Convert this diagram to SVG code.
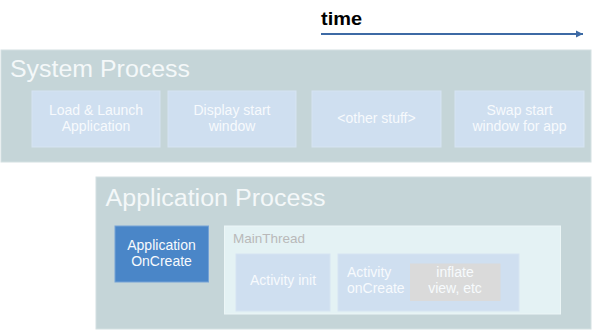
<svg xmlns="http://www.w3.org/2000/svg" width="592" height="330" viewBox="0 0 592 330">
<style>
.proc{fill:#c5d5d8;stroke:#d3e0e2;stroke-width:1}
.step{fill:#cfdff0;stroke:#d6e4f2;stroke-width:1}
.title{font-family:"Liberation Sans",Arial,sans-serif;font-size:23px;fill:#f4f8f9}
.lbl{font-family:"Liberation Sans",Arial,sans-serif;font-size:14px;fill:#f7fafd;text-anchor:middle}
.lbll{font-family:"Liberation Sans",Arial,sans-serif;font-size:14px;fill:#f7fafd}
</style>
<defs>
<marker id="ah" markerWidth="8" markerHeight="8" refX="7" refY="4" orient="auto" markerUnits="userSpaceOnUse">
<path d="M0,0.5 L7,4 L0,7.5 Z" fill="#3d6aa5"/>
</marker>
</defs>
<rect width="592" height="330" fill="#ffffff"/>
<g id="time-label">
<text x="321" y="25" font-family="Liberation Sans,Arial,sans-serif" font-size="18" font-weight="bold" fill="#000000" textLength="41" lengthAdjust="spacingAndGlyphs">time</text>
</g>
<g id="connectors">
<line x1="321" y1="34" x2="583" y2="34" stroke="#3d6aa5" stroke-width="2" marker-end="url(#ah)"/>
</g>
<g id="system-process">
<rect class="proc" x="1" y="50" width="590" height="112"/>
<text class="title" x="10" y="77" textLength="180" lengthAdjust="spacingAndGlyphs">System Process</text>
</g>
<g id="load-launch">
<rect class="step" x="32" y="91" width="128" height="56"/>
<text class="lbl" x="96" y="115">Load &amp; Launch</text>
<text class="lbl" x="96" y="131">Application</text>
</g>
<g id="display-start">
<rect class="step" x="168" y="91" width="128" height="56"/>
<text class="lbl" x="232" y="115">Display start</text>
<text class="lbl" x="232" y="131">window</text>
</g>
<g id="other-stuff">
<rect class="step" x="312" y="91" width="129" height="56"/>
<text class="lbl" x="376.5" y="123">&lt;other stuff&gt;</text>
</g>
<g id="swap-start">
<rect class="step" x="455" y="91" width="129" height="56"/>
<text class="lbl" x="519.5" y="115">Swap start</text>
<text class="lbl" x="519.5" y="131">window for app</text>
</g>
<g id="application-process">
<rect class="proc" x="96" y="177" width="495" height="152"/>
<text class="title" x="105.5" y="206" textLength="220" lengthAdjust="spacingAndGlyphs">Application Process</text>
</g>
<g id="application-oncreate">
<rect x="115" y="226" width="93.5" height="56" fill="#4a86c8" stroke="#76a3d6" stroke-width="1"/>
<text class="lbl" x="161.5" y="250">Application</text>
<text class="lbl" x="161.5" y="266">OnCreate</text>
</g>
<g id="main-thread">
<rect x="224.5" y="226" width="336" height="88" fill="#e4f2f4" stroke="#ecf6f7" stroke-width="1"/>
<text x="233" y="243" font-family="Liberation Sans,Arial,sans-serif" font-size="13.5" fill="#b9b9b9">MainThread</text>
</g>
<g id="activity-init">
<rect class="step" x="236" y="254" width="94" height="57"/>
<text class="lbl" x="283" y="285">Activity init</text>
</g>
<g id="activity-oncreate">
<rect class="step" x="338" y="254" width="181" height="57"/>
<text class="lbll" x="347" y="277">Activity</text>
<text class="lbll" x="347" y="293">onCreate</text>
</g>
<g id="inflate-view">
<rect x="410" y="263.5" width="90.5" height="37.5" fill="#dadada"/>
<text class="lbl" x="455" y="277">inflate</text>
<text class="lbl" x="455" y="293">view, etc</text>
</g>
</svg>
